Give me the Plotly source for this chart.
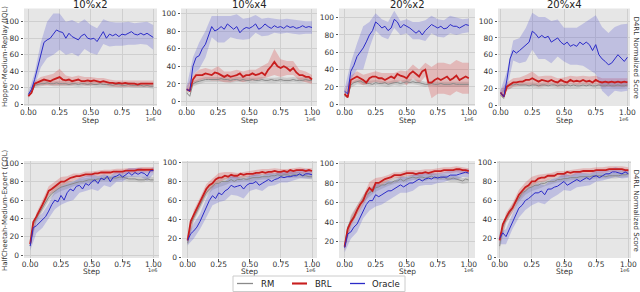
import plotly.graph_objects as go

# ---------------- sampling grid (training steps, in units of 1e6) ----------------
steps = [round(i * 0.025, 3) for i in range(41)]
band_steps = steps[::2]

col_titles = ["10%x2", "10%x4", "20%x2", "20%x4"]
row_labels = ["Hopper-Medium-Replay (IQL)", "HalfCheetah-Medium-Expert (CQL)"]
right_label = "D4RL Normalized Score"
series_names = ["RM", "BRL", "Oracle"]
y_ticks = [0, 20, 40, 60, 80, 100]
x_ticks = [0, 0.25, 0.5, 0.75, 1.0]
x_tick_text = ["0.00", "0.25", "0.50", "0.75", "1.00"]

# ---------------- Hopper-Medium-Replay (IQL) ----------------
# 10%x2
hop_10x2_rm = [10, 14, 23, 24, 25, 25, 26, 25, 25, 26, 25, 25, 25, 24, 25, 25, 24, 25, 25, 24, 25,
               24, 24, 25, 24, 24, 24, 23, 24, 24, 23, 23, 24, 23, 23, 23, 23, 22, 23, 22, 22]
hop_10x2_rm_sd = [2, 3, 3, 3, 3, 3, 3, 3, 3, 3, 3, 3, 3, 3, 3, 3, 3, 3, 3, 3, 3]
hop_10x2_brl = [10, 14, 25, 27, 28, 30, 29, 28, 30, 32, 33, 30, 29, 30, 28, 29, 30, 28, 28, 29, 28,
                29, 28, 27, 28, 27, 26, 26, 25, 26, 25, 26, 25, 25, 25, 24, 25, 25, 25, 25, 25]
hop_10x2_brl_sd = [2, 3, 5, 6, 7, 10, 6, 5, 5, 5, 5, 4, 4, 4, 4, 4, 4, 4, 4, 4, 4]
hop_10x2_oracle = [12, 18, 30, 45, 60, 75, 78, 80, 85, 90, 88, 87, 80, 86, 82, 80, 78, 83, 85, 80, 79,
                   80, 76, 82, 88, 80, 85, 83, 85, 82, 85, 84, 86, 88, 85, 84, 86, 84, 86, 83, 81]
hop_10x2_oracle_sd = [3, 8, 15, 22, 25, 22, 20, 20, 20, 18, 17, 16, 15, 15, 14, 14, 14, 13, 13, 14, 15]

# 10%x4
hop_10x4_rm = [10, 6, 20, 22, 23, 24, 25, 25, 25, 25, 25, 26, 25, 25, 24, 25, 25, 24, 25, 24, 24,
               25, 24, 24, 25, 24, 24, 25, 24, 24, 25, 24, 24, 24, 25, 24, 24, 24, 25, 24, 24]
hop_10x4_rm_sd = [3, 3, 3, 3, 3, 3, 3, 3, 3, 3, 3, 3, 3, 3, 3, 3, 3, 3, 3, 3, 3]
hop_10x4_brl = [14, 12, 25, 30, 30, 30, 32, 31, 30, 33, 32, 30, 28, 30, 28, 29, 30, 32, 28, 30, 30,
                32, 30, 31, 33, 30, 36, 40, 45, 40, 38, 40, 38, 35, 38, 33, 30, 30, 28, 28, 25]
hop_10x4_brl_sd = [3, 5, 6, 6, 6, 8, 6, 6, 6, 6, 6, 6, 7, 8, 15, 10, 8, 8, 6, 6, 5]
hop_10x4_oracle = [14, 12, 40, 50, 52, 60, 65, 75, 85, 80, 82, 85, 82, 88, 85, 82, 85, 78, 82, 84, 83,
                   85, 88, 82, 84, 88, 85, 83, 86, 84, 85, 83, 86, 84, 85, 83, 84, 86, 84, 85, 84]
hop_10x4_oracle_sd = [3, 10, 15, 15, 12, 15, 15, 12, 14, 12, 12, 10, 10, 10, 8, 8, 8, 8, 8, 7, 7]

# 20%x2
hop_20x2_rm = [10, 8, 22, 25, 26, 27, 25, 24, 24, 23, 25, 24, 24, 25, 23, 24, 25, 25, 24, 25, 26,
               25, 26, 25, 25, 24, 23, 23, 24, 23, 23, 24, 23, 23, 23, 24, 23, 23, 23, 23, 23]
hop_20x2_rm_sd = [2, 3, 3, 3, 3, 3, 3, 3, 3, 3, 3, 3, 3, 3, 3, 3, 3, 3, 3, 3, 3]
hop_20x2_brl = [12, 8, 28, 30, 32, 30, 28, 25, 30, 32, 32, 30, 30, 28, 30, 32, 30, 35, 33, 32, 30,
                35, 38, 35, 32, 38, 40, 25, 25, 28, 30, 28, 30, 32, 28, 30, 33, 28, 30, 32, 30]
hop_20x2_brl_sd = [3, 5, 6, 6, 6, 6, 6, 6, 6, 6, 8, 8, 8, 8, 18, 18, 18, 18, 18, 18, 18]
hop_20x2_oracle = [15, 12, 38, 45, 55, 60, 65, 72, 80, 85, 95, 92, 88, 90, 85, 88, 98, 95, 88, 92, 90,
                   88, 85, 82, 85, 80, 85, 88, 92, 90, 88, 90, 87, 88, 92, 90, 90, 88, 90, 92, 91]
hop_20x2_oracle_sd = [3, 10, 15, 25, 15, 10, 10, 10, 10, 8, 8, 10, 10, 12, 10, 10, 10, 10, 10, 8, 8]

# 20%x4
hop_20x4_rm = [12, 8, 22, 24, 24, 25, 24, 24, 24, 23, 24, 24, 23, 24, 24, 23, 24, 24, 23, 24, 23,
               24, 23, 24, 23, 23, 24, 23, 24, 23, 23, 24, 23, 23, 24, 23, 23, 24, 23, 23, 24]
hop_20x4_rm_sd = [2, 3, 3, 3, 3, 3, 3, 3, 3, 3, 3, 3, 3, 3, 3, 3, 3, 3, 3, 3, 3]
hop_20x4_brl = [15, 10, 22, 25, 27, 27, 28, 28, 30, 30, 32, 30, 28, 30, 29, 28, 30, 28, 27, 30, 28,
                27, 30, 28, 29, 28, 30, 28, 29, 27, 30, 28, 27, 28, 27, 28, 27, 28, 27, 28, 27]
hop_20x4_brl_sd = [3, 5, 5, 5, 6, 8, 6, 6, 5, 5, 5, 5, 5, 5, 5, 5, 5, 5, 5, 5, 5]
hop_20x4_oracle = [15, 10, 30, 55, 65, 62, 65, 68, 72, 75, 88, 85, 80, 83, 80, 82, 75, 78, 80, 75, 72,
                   75, 70, 72, 70, 75, 72, 75, 72, 65, 72, 60, 55, 52, 48, 50, 55, 60, 56, 52, 57]
hop_20x4_oracle_sd = [3, 10, 12, 15, 20, 22, 25, 25, 25, 22, 20, 22, 22, 25, 30, 35, 38, 38, 38, 40, 40]

# ---------------- HalfCheetah-Medium-Expert (CQL) ----------------
# 10%x2
hc_10x2_rm = [10, 33, 40, 46, 52, 58, 63, 67, 70, 72, 74, 75, 76, 77, 78, 79, 80, 80, 81, 82, 82,
              82, 83, 83, 84, 84, 84, 84, 84, 85, 85, 84, 83, 83, 83, 82, 82, 82, 83, 82, 82]
hc_10x2_rm_sd = [3, 4, 4, 4, 4, 4, 4, 3, 3, 3, 3, 3, 3, 3, 3, 3, 3, 3, 3, 3, 3]
hc_10x2_brl = [12, 36, 42, 48, 55, 62, 70, 72, 75, 78, 80, 80, 82, 84, 85, 86, 86, 87, 88, 88, 88,
               89, 89, 90, 90, 90, 90, 91, 91, 91, 91, 92, 92, 92, 92, 93, 93, 93, 93, 93, 93]
hc_10x2_brl_sd = [3, 4, 5, 5, 5, 5, 4, 4, 3, 3, 3, 3, 3, 3, 3, 3, 3, 3, 3, 3, 3]
hc_10x2_oracle = [10, 30, 32, 35, 38, 42, 48, 55, 60, 58, 65, 60, 68, 72, 70, 75, 76, 72, 78, 76, 80,
                  82, 78, 84, 82, 86, 80, 85, 86, 88, 85, 88, 90, 87, 90, 88, 90, 89, 86, 92, 92]
hc_10x2_oracle_sd = [5, 8, 8, 8, 10, 10, 10, 10, 8, 8, 8, 8, 6, 6, 6, 5, 5, 5, 5, 5, 4]

# 10%x4
hc_10x4_rm = [15, 35, 42, 48, 55, 62, 68, 72, 75, 78, 78, 80, 80, 80, 82, 80, 82, 82, 83, 82, 83,
              84, 84, 84, 85, 85, 85, 86, 86, 87, 86, 87, 87, 86, 87, 87, 87, 86, 86, 85, 85]
hc_10x4_rm_sd = [4, 4, 4, 4, 4, 4, 4, 3, 3, 3, 3, 3, 3, 3, 3, 3, 3, 3, 3, 3, 3]
hc_10x4_brl = [18, 38, 45, 52, 58, 65, 72, 76, 78, 82, 84, 84, 86, 85, 87, 86, 86, 88, 87, 88, 88,
               88, 89, 89, 90, 89, 90, 90, 91, 90, 90, 91, 90, 92, 91, 92, 92, 92, 91, 92, 91]
hc_10x4_brl_sd = [4, 5, 5, 5, 5, 5, 4, 3, 3, 3, 3, 3, 3, 3, 3, 3, 3, 3, 3, 3, 3]
hc_10x4_oracle = [18, 25, 28, 32, 38, 45, 52, 60, 65, 62, 68, 66, 70, 72, 76, 74, 75, 76, 72, 76, 78,
                  78, 80, 76, 78, 80, 82, 80, 82, 83, 85, 84, 85, 85, 86, 86, 88, 86, 88, 88, 87]
hc_10x4_oracle_sd = [5, 8, 8, 10, 10, 10, 10, 10, 10, 10, 8, 8, 8, 7, 6, 6, 6, 5, 5, 5, 4]

# 20%x2
hc_20x2_rm = [15, 35, 42, 46, 52, 58, 64, 68, 70, 72, 75, 76, 78, 78, 80, 80, 82, 82, 84, 82, 84,
              85, 86, 85, 86, 86, 85, 86, 87, 85, 86, 85, 86, 84, 84, 85, 84, 83, 82, 84, 83]
hc_20x2_rm_sd = [4, 5, 5, 4, 4, 4, 4, 3, 3, 3, 3, 3, 3, 3, 3, 3, 3, 3, 3, 3, 3]
hc_20x2_brl = [15, 33, 40, 45, 52, 58, 62, 70, 75, 72, 80, 80, 82, 84, 85, 86, 88, 88, 88, 89, 90,
               90, 90, 89, 90, 90, 91, 90, 91, 92, 92, 92, 93, 93, 93, 93, 94, 94, 93, 93, 92]
hc_20x2_brl_sd = [4, 5, 5, 5, 6, 5, 4, 3, 3, 3, 3, 3, 3, 3, 3, 3, 3, 3, 3, 3, 3]
hc_20x2_oracle = [14, 28, 30, 35, 38, 45, 52, 58, 62, 62, 68, 66, 68, 70, 72, 72, 74, 76, 78, 76, 78,
                  80, 80, 82, 84, 82, 84, 85, 84, 86, 85, 86, 86, 86, 88, 88, 88, 89, 90, 91, 90]
hc_20x2_oracle_sd = [5, 7, 8, 8, 10, 12, 10, 10, 8, 8, 8, 8, 7, 6, 6, 5, 5, 5, 5, 4, 4]

# 20%x4
hc_20x4_rm = [12, 32, 40, 46, 52, 58, 62, 68, 70, 73, 74, 76, 76, 78, 78, 80, 80, 80, 82, 82, 83,
              83, 84, 84, 84, 85, 85, 85, 85, 86, 86, 86, 86, 85, 86, 86, 86, 86, 87, 87, 88]
hc_20x4_rm_sd = [4, 4, 4, 4, 4, 4, 4, 3, 3, 3, 3, 3, 3, 3, 3, 3, 3, 3, 3, 3, 3]
hc_20x4_brl = [18, 35, 42, 48, 52, 60, 66, 70, 74, 76, 80, 80, 83, 84, 84, 86, 86, 86, 88, 88, 88,
               90, 89, 90, 90, 90, 91, 91, 91, 91, 92, 92, 92, 92, 93, 93, 93, 93, 93, 92, 92]
hc_20x4_brl_sd = [4, 5, 5, 5, 5, 5, 4, 4, 3, 3, 3, 3, 3, 3, 3, 3, 3, 3, 3, 3, 3]
hc_20x4_oracle = [20, 26, 22, 30, 38, 45, 52, 55, 60, 62, 65, 68, 68, 70, 66, 72, 72, 74, 75, 78, 80,
                  76, 78, 80, 82, 80, 82, 84, 82, 85, 86, 84, 86, 88, 88, 90, 90, 89, 88, 90, 88]
hc_20x4_oracle_sd = [6, 8, 8, 10, 10, 10, 10, 10, 10, 9, 9, 8, 8, 7, 6, 6, 5, 5, 5, 5, 4]

panels = [
    (hop_10x2_rm, hop_10x2_rm_sd, hop_10x2_brl, hop_10x2_brl_sd, hop_10x2_oracle, hop_10x2_oracle_sd),
    (hop_10x4_rm, hop_10x4_rm_sd, hop_10x4_brl, hop_10x4_brl_sd, hop_10x4_oracle, hop_10x4_oracle_sd),
    (hop_20x2_rm, hop_20x2_rm_sd, hop_20x2_brl, hop_20x2_brl_sd, hop_20x2_oracle, hop_20x2_oracle_sd),
    (hop_20x4_rm, hop_20x4_rm_sd, hop_20x4_brl, hop_20x4_brl_sd, hop_20x4_oracle, hop_20x4_oracle_sd),
    (hc_10x2_rm, hc_10x2_rm_sd, hc_10x2_brl, hc_10x2_brl_sd, hc_10x2_oracle, hc_10x2_oracle_sd),
    (hc_10x4_rm, hc_10x4_rm_sd, hc_10x4_brl, hc_10x4_brl_sd, hc_10x4_oracle, hc_10x4_oracle_sd),
    (hc_20x2_rm, hc_20x2_rm_sd, hc_20x2_brl, hc_20x2_brl_sd, hc_20x2_oracle, hc_20x2_oracle_sd),
    (hc_20x4_rm, hc_20x4_rm_sd, hc_20x4_brl, hc_20x4_brl_sd, hc_20x4_oracle, hc_20x4_oracle_sd),
]

# ---------------- layout geometry (pixels) & styles ----------------
W, H = 640, 292
x_dom_px = [(24, 157), (181, 317), (339, 475), (498, 630),
            (24, 159), (182, 317), (339, 475), (497, 631)]
y_dom_px = [(8.5, 106)] * 4 + [(161, 258)] * 4
y_ranges = [(-2, 116), (-5, 105.5), (-2, 110.5), (-1, 115),
            (-3, 102.5), (-0.5, 101.5), (3.5, 102.4), (-0.5, 101.5)]
x_ranges = [(-0.035, 1.03), (-0.045, 1.04), (-0.045, 1.05), (-0.02, 1.02),
            (-0.05, 1.045), (-0.045, 1.04), (-0.045, 1.05), (-0.02, 1.02)]

line_cols = ["#8a8a8a", "#c81e1e", "#2b2bc8"]
band_cols = ["rgba(140,140,140,0.30)", "rgba(215,70,70,0.28)", "rgba(90,90,210,0.28)"]
line_w = [1.0, 1.8, 1.0]

# legend box geometry (pixels): box, and per-entry (line start, line end, text x)
legend_box_px = (233, 276, 405, 291.5)
legend_entries_px = [(237, 253, 259), (292, 307, 313), (350, 365, 370)]
legend_y_px = 283.5

FONT = "DejaVu Sans, sans-serif"
TXT = "#333333"

fig = go.Figure()
layout = dict(template="none", width=W, height=H, margin=dict(l=0, r=0, t=0, b=0, pad=0),
              paper_bgcolor="white", plot_bgcolor="#e6e6e6",
              font=dict(family=FONT, size=7.5, color=TXT),
              showlegend=False)
annotations = []
shapes = []

for p, data in enumerate(panels):
    k = p + 1
    xa = "x" if k == 1 else f"x{k}"
    ya = "y" if k == 1 else f"y{k}"
    for s in range(3):
        mean = data[2 * s]
        sd = data[2 * s + 1]
        m_b = mean[::2]
        upper = [m + d for m, d in zip(m_b, sd)]
        lower = [m - d for m, d in zip(m_b, sd)]
        fig.add_trace(go.Scatter(x=band_steps + band_steps[::-1], y=upper + lower[::-1],
                                 fill="toself", fillcolor=band_cols[s], line=dict(width=0),
                                 mode="lines", hoverinfo="skip", showlegend=False,
                                 xaxis=xa, yaxis=ya))
    for s in range(3):
        fig.add_trace(go.Scatter(x=steps, y=data[2 * s], mode="lines",
                                 line=dict(color=line_cols[s], width=line_w[s]),
                                 name=series_names[s], showlegend=False,
                                 xaxis=xa, yaxis=ya))

    x0, x1 = x_dom_px[p]
    y0, y1 = y_dom_px[p]
    kx = "xaxis" if k == 1 else f"xaxis{k}"
    ky = "yaxis" if k == 1 else f"yaxis{k}"
    layout[kx] = dict(domain=[x0 / W, x1 / W], anchor=ya, range=list(x_ranges[p]),
                      tickvals=x_ticks, ticktext=x_tick_text, ticks="outside", ticklen=2.5,
                      tickcolor="#555555", showgrid=True, gridcolor="#cfcfcf", gridwidth=1,
                      zeroline=False, showline=False, automargin=False,
                      ticklabelstandoff=-4,
                      tickfont=dict(size=7.5, color=TXT))
    layout[ky] = dict(domain=[1 - y1 / H, 1 - y0 / H], anchor=xa, range=list(y_ranges[p]),
                      tickvals=y_ticks, ticks="outside", ticklen=2.5, tickcolor="#555555",
                      showgrid=True, gridcolor="#cfcfcf", gridwidth=1, zeroline=False,
                      showline=False, automargin=False, tickfont=dict(size=7.5, color=TXT))
    # "Step" axis title and "1e6" offset text
    step_y = 120 if p < 4 else 271.5
    annotations.append(dict(text="Step", x=(x0 + x1) / 2 / W, y=1 - step_y / H, xref="paper",
                            yref="paper", showarrow=False, font=dict(size=7.5, color=TXT),
                            xanchor="center", yanchor="middle"))
    annotations.append(dict(text="1e6", x=x1 / W, y=1 - (step_y - 1.5) / H, xref="paper",
                            yref="paper", showarrow=False, font=dict(size=5, color=TXT),
                            xanchor="right", yanchor="middle"))
    if p < 4:
        annotations.append(dict(text=col_titles[p], x=(x0 + x1) / 2 / W, y=1 - 4.5 / H,
                                xref="paper", yref="paper", showarrow=False,
                                font=dict(size=10, color="#222222"),
                                xanchor="center", yanchor="middle"))

# row labels
for lbl, yc in zip(row_labels, [57, 210]):
    annotations.append(dict(text=lbl, x=5 / W, y=1 - yc / H, xref="paper", yref="paper",
                            showarrow=False, textangle=-90, font=dict(size=7, color=TXT),
                            xanchor="center", yanchor="middle"))
    annotations.append(dict(text=right_label, x=635.5 / W, y=1 - yc / H, xref="paper", yref="paper",
                            showarrow=False, textangle=90, font=dict(size=7, color=TXT),
                            xanchor="center", yanchor="middle"))

# legend (box with line samples and labels)
bx0, by0, bx1, by1 = legend_box_px
shapes.append(dict(type="rect", xref="paper", yref="paper", x0=bx0 / W, x1=bx1 / W,
                   y0=1 - by1 / H, y1=1 - by0 / H, fillcolor="white",
                   line=dict(color="#cccccc", width=1)))
for s, (lx0, lx1, tx) in enumerate(legend_entries_px):
    shapes.append(dict(type="line", xref="paper", yref="paper", x0=lx0 / W, x1=lx1 / W,
                       y0=1 - legend_y_px / H, y1=1 - legend_y_px / H,
                       line=dict(color=line_cols[s], width=line_w[s] + 0.3)))
    annotations.append(dict(text=series_names[s], x=tx / W, y=1 - legend_y_px / H,
                            xref="paper", yref="paper", showarrow=False,
                            font=dict(size=8.5, color="#222222"),
                            xanchor="left", yanchor="middle"))

layout["annotations"] = annotations
layout["shapes"] = shapes
fig.update_layout(**layout)
fig.write_html("out.html", config={"displayModeBar": False},
               post_script="document.body.style.margin='0px';document.body.style.padding='0px';")
